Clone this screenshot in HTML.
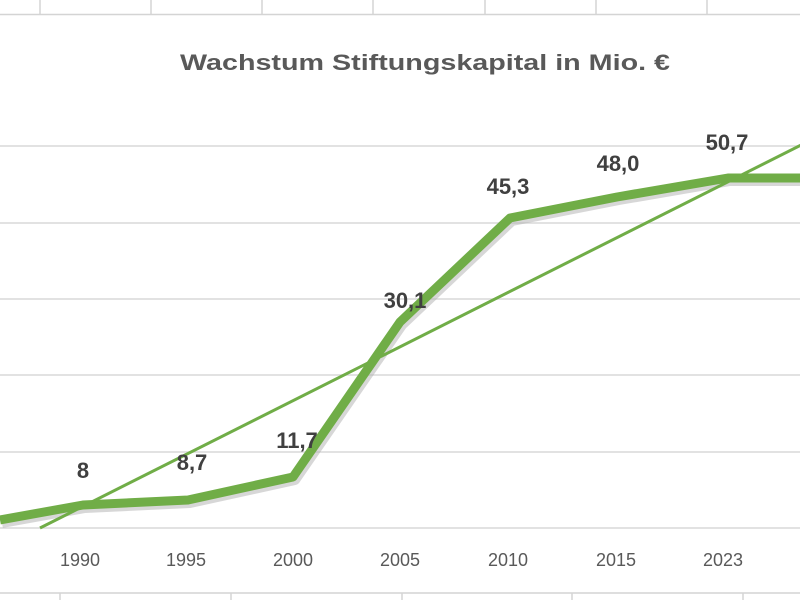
<!DOCTYPE html>
<html><head><meta charset="utf-8"><style>
html,body{margin:0;padding:0;background:#fff;}
svg{display:block;font-family:"Liberation Sans",sans-serif;}
</style></head><body>
<svg width="800" height="600" viewBox="0 0 800 600" xmlns="http://www.w3.org/2000/svg">
<rect width="800" height="600" fill="#fff"/>
<line x1="0" y1="14.5" x2="800" y2="14.5" stroke="#d4d4d4" stroke-width="1.5"/>
<g stroke="#d4d4d4" stroke-width="1.5">
<line x1="40" y1="0" x2="40" y2="14"/><line x1="151" y1="0" x2="151" y2="14"/><line x1="262" y1="0" x2="262" y2="14"/><line x1="373" y1="0" x2="373" y2="14"/><line x1="485" y1="0" x2="485" y2="14"/><line x1="596" y1="0" x2="596" y2="14"/><line x1="707" y1="0" x2="707" y2="14"/>
<line x1="0" y1="593" x2="800" y2="593"/>
<line x1="60" y1="593" x2="60" y2="600"/><line x1="231" y1="593" x2="231" y2="600"/><line x1="402" y1="593" x2="402" y2="600"/><line x1="572" y1="593" x2="572" y2="600"/><line x1="743" y1="593" x2="743" y2="600"/>
</g>
<g stroke="#d9d9d9" stroke-width="1.5">
<line x1="0" y1="146" x2="800" y2="146"/><line x1="0" y1="223" x2="800" y2="223"/><line x1="0" y1="299" x2="800" y2="299"/><line x1="0" y1="375" x2="800" y2="375"/><line x1="0" y1="452" x2="800" y2="452"/><line x1="0" y1="528" x2="800" y2="528"/>
</g>
<text x="425" y="70" text-anchor="middle" font-size="22" font-weight="bold" fill="#595959" textLength="490" lengthAdjust="spacingAndGlyphs">Wachstum Stiftungskapital in Mio. €</text>
<polyline points="0,520 83,505 188,500 293,477 400,322 510,218 617,197 728,178 800,178" fill="none" stroke="#b0b0b0" stroke-opacity="0.5" stroke-width="10" stroke-linejoin="round" transform="translate(2,3)"/>
<polyline points="0,520 83,505 188,500 293,477 400,322 510,218 617,197 728,178 800,178" fill="none" stroke="#70ad47" stroke-width="9" stroke-linejoin="round"/>
<line x1="40" y1="528" x2="805" y2="143" stroke="#70ad47" stroke-width="3"/>
<g font-size="22" font-weight="bold" fill="#404040" text-anchor="middle">
<text x="83" y="478">8</text><text x="192" y="470">8,7</text><text x="297" y="448">11,7</text><text x="405" y="308">30,1</text><text x="508" y="194">45,3</text><text x="618" y="171">48,0</text><text x="727" y="150">50,7</text>
</g>
<g font-size="18" fill="#595959" text-anchor="middle">
<text x="80" y="566">1990</text><text x="186" y="566">1995</text><text x="293" y="566">2000</text><text x="400" y="566">2005</text><text x="508" y="566">2010</text><text x="616" y="566">2015</text><text x="723" y="566">2023</text>
</g>
</svg>
</body></html>
